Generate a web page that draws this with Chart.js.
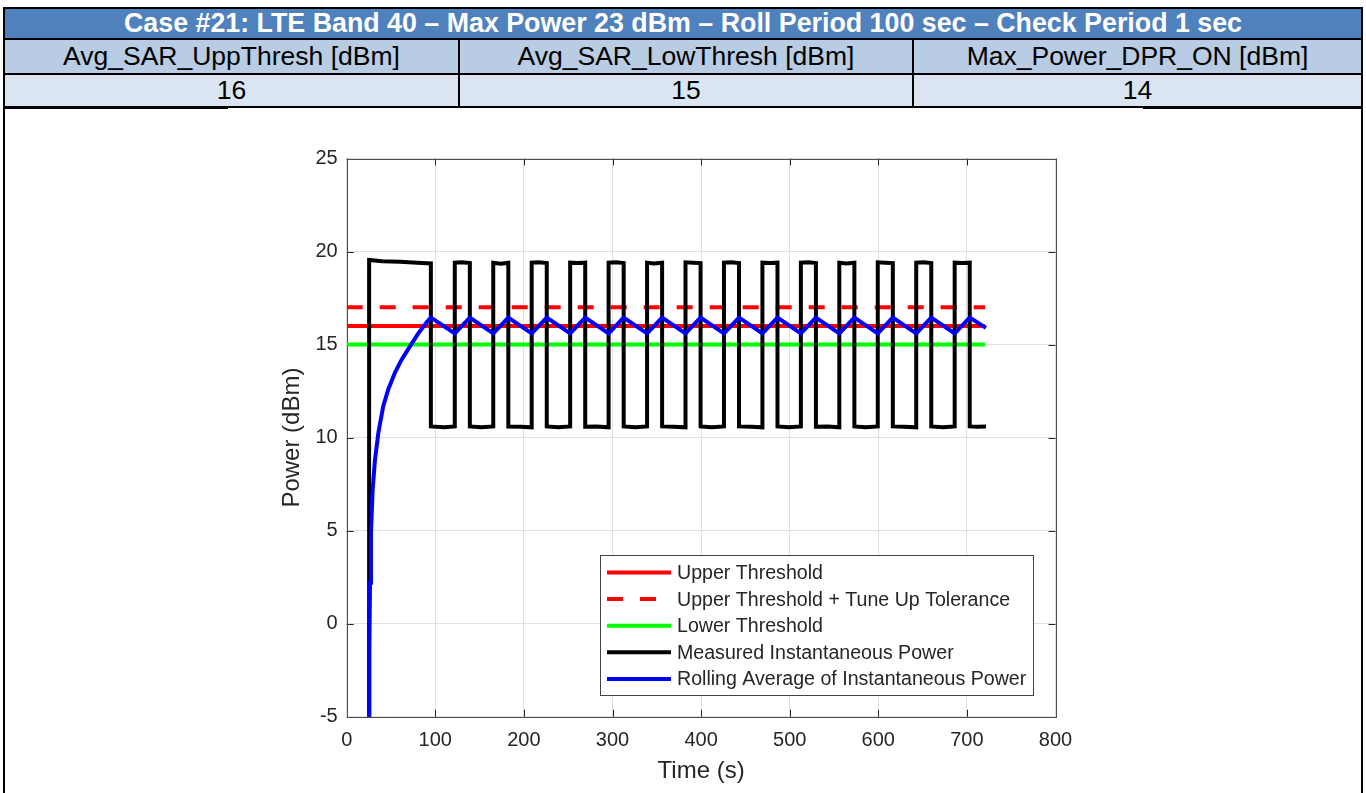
<!DOCTYPE html>
<html lang="en">
<head>
<meta charset="UTF-8">
<title>Case #21: LTE Band 40</title>
<script src="https://cdn.jsdelivr.net/npm/chart.js"></script>
<style>
  body {
    margin: 0;
    width: 1366px;
    height: 793px;
    overflow: hidden;
    background: #fff;
    position: relative;
    font-family: 'Liberation Sans', Arial, sans-serif;
  }
  canvas { position: absolute; left: 0; top: 0; }
  .cell {
    position: absolute;
    box-sizing: border-box;
    border: 2px solid #000;
    display: flex;
    align-items: center;
    justify-content: center;
    font-size: 26.5px;
    color: #000;
    white-space: nowrap;
  }
  .title { left: 3px; top: 7px; width: 1360px; height: 33px; background: #4f81bd; color: #fff; font-weight: bold; font-size: 26.8px; }
  .head { top: 38px; height: 37px; background: #b8cce4; }
  .val  { top: 73px; height: 35px; background: #dbe5f1; }
  .c1 { left: 3px; width: 457px; }
  .c2 { left: 458px; width: 456px; }
  .c3 { left: 912px; width: 451px; }
  .rule { position: absolute; background: #000; }
</style>
</head>
<body>

<canvas id="powerChart" width="1366" height="793"></canvas>

<div class="cell title">Case #21: LTE Band 40 – Max Power 23 dBm – Roll Period 100 sec – Check Period 1 sec</div>
<div class="cell head c1">Avg_SAR_UppThresh [dBm]</div>
<div class="cell head c2">Avg_SAR_LowThresh [dBm]</div>
<div class="cell head c3">Max_Power_DPR_ON [dBm]</div>
<div class="cell val c1">16</div>
<div class="cell val c2">15</div>
<div class="cell val c3">14</div>
<div class="rule" style="left:3px;top:106px;width:2px;height:687px"></div>
<div class="rule" style="left:1361px;top:106px;width:2px;height:687px"></div>
<div class="rule" style="left:3px;top:106px;width:225px;height:3px"></div>
<div class="rule" style="left:1143px;top:106px;width:220px;height:3px"></div>

<script>
// threshold levels (dBm) and the time span they are drawn over (s)
const upperThreshold = 16;
const tuneUpThreshold = 17;
const lowerThreshold = 15;
const thresholdSpan = [0, 720.5];

// measured instantaneous power, corner points
const measTime = [
  25.3, 25.3, 40, 60, 80, 95,
  95, 110, 122,
  122, 130, 139, 139, 152, 165.4,
  165.4, 174, 182.4, 182.4, 196, 208.8,
  208.8, 217, 225.8, 225.8, 239, 252.2,
  252.2, 261, 269.2, 269.2, 282, 295.6,
  295.6, 304, 312.6, 312.6, 326, 339.0,
  339.0, 347, 356.0, 356.0, 369, 382.4,
  382.4, 391, 399.4, 399.4, 412, 425.8,
  425.8, 434, 442.8, 442.8, 456, 469.2,
  469.2, 478, 486.2, 486.2, 499, 512.6,
  512.6, 521, 529.6, 529.6, 543, 556.0,
  556.0, 564, 573.0, 573.0, 586, 599.4,
  599.4, 608, 616.4, 616.4, 629, 642.8,
  642.8, 651, 659.8, 659.8, 673, 686.2,
  686.2, 695, 703.2, 703.2, 712, 721.5
];
const measPower = [
  -6, 19.55, 19.48, 19.45, 19.4, 19.36,
  10.6, 10.55, 10.6,
  19.4, 19.42, 19.38, 10.6, 10.55, 10.6,
  19.4, 19.35, 19.4, 10.6, 10.58, 10.55,
  19.4, 19.42, 19.38, 10.6, 10.55, 10.6,
  19.4, 19.38, 19.4, 10.58, 10.6, 10.55,
  19.4, 19.42, 19.38, 10.6, 10.55, 10.6,
  19.4, 19.36, 19.4, 10.6, 10.58, 10.55,
  19.42, 19.4, 19.38, 10.6, 10.55, 10.6,
  19.4, 19.42, 19.38, 10.6, 10.58, 10.55,
  19.4, 19.38, 19.4, 10.6, 10.55, 10.6,
  19.4, 19.42, 19.38, 10.58, 10.6, 10.55,
  19.4, 19.36, 19.4, 10.6, 10.55, 10.6,
  19.42, 19.4, 19.38, 10.6, 10.58, 10.55,
  19.4, 19.42, 19.38, 10.6, 10.55, 10.6,
  19.4, 19.38, 19.4, 10.6, 10.58, 10.6
];

// rolling average of instantaneous power
const rollTime = [
  25.2, 25.5, 26.3, 27.4, 29.3, 31.9, 35.7, 41.3, 47, 54.5, 62.1, 71.4, 80.8, 90.3, 95,
  122, 139, 165.4, 182.4, 208.8, 225.8, 252.2, 269.2, 295.6, 312.6, 339.0, 356.0,
  382.4, 399.4, 425.8, 442.8, 469.2, 486.2, 512.6, 529.6, 556.0, 573.0, 599.4, 616.4,
  642.8, 659.8, 686.2, 703.2, 721.5
];
const rollPower = [
  -6, -1.4, 2.2, 4.9, 7.2, 8.8, 10.25, 11.7, 12.6, 13.5, 14.2, 14.9, 15.6, 16.2, 16.45,
  15.6, 16.45, 15.6, 16.45, 15.6, 16.45, 15.6, 16.45, 15.6, 16.45, 15.6, 16.45,
  15.6, 16.45, 15.6, 16.45, 15.6, 16.45, 15.6, 16.45, 15.6, 16.45, 15.6, 16.45,
  15.6, 16.45, 15.6, 16.45, 15.9
];

const xTicks = [0, 100, 200, 300, 400, 500, 600, 700, 800];
const yTicks = [-5, 0, 5, 10, 15, 20, 25];

const FONT = "'Liberation Sans', Arial, sans-serif";
const INK = '#262626';

function toPoints(xs, ys) {
  return xs.map((x, i) => ({ x: x, y: ys[i] }));
}
function flatLine(level) {
  return thresholdSpan.map(x => ({ x: x, y: level }));
}

// box and inward tick marks, MATLAB style
const axesBox = {
  id: 'axesBox',
  beforeDatasetsDraw(chart) {
    const { ctx, chartArea: a, scales } = chart;
    ctx.save();
    ctx.strokeStyle = INK;
    ctx.lineWidth = 1;
    ctx.beginPath();
    xTicks.forEach(v => {
      const px = Math.round(scales.x.getPixelForValue(v)) + 0.5;
      ctx.moveTo(px, a.bottom); ctx.lineTo(px, a.bottom - 7);
      ctx.moveTo(px, a.top); ctx.lineTo(px, a.top + 7);
    });
    yTicks.forEach(v => {
      const py = Math.round(scales.y.getPixelForValue(v)) + 0.5;
      ctx.moveTo(a.left, py); ctx.lineTo(a.left + 7, py);
      ctx.moveTo(a.right, py); ctx.lineTo(a.right - 7, py);
    });
    ctx.stroke();
    ctx.strokeStyle = '#4d4d4d';
    ctx.strokeRect(Math.round(a.left) + 0.5, Math.round(a.top) + 0.5,
      Math.round(a.right - a.left), Math.round(a.bottom - a.top));
    ctx.restore();
  }
};

// legend box inside the axes (lower right), like the original
const boxLegend = {
  id: 'boxLegend',
  afterDatasetsDraw(chart) {
    const { ctx } = chart;
    const x0 = 600, y0 = 555, w = 433, h = 140;
    ctx.save();
    ctx.fillStyle = '#fff';
    ctx.fillRect(x0, y0, w, h);
    ctx.strokeStyle = '#444';
    ctx.lineWidth = 1;
    ctx.strokeRect(x0 + 0.5, y0 + 0.5, w, h);
    ctx.font = '19.6px ' + FONT;
    ctx.textBaseline = 'middle';
    chart.data.datasets.forEach((ds, i) => {
      const y = y0 + 17.5 + i * 26.6;
      ctx.strokeStyle = ds.borderColor;
      ctx.lineWidth = 4;
      ctx.setLineDash(ds.borderDash || []);
      ctx.beginPath();
      ctx.moveTo(607, y); ctx.lineTo(671, y);
      ctx.stroke();
      ctx.setLineDash([]);
      ctx.fillStyle = INK;
      ctx.fillText(ds.label, 677, y + 1);
    });
    ctx.restore();
  }
};

new Chart(document.getElementById('powerChart'), {
  type: 'line',
  data: {
    datasets: [
      { label: 'Upper Threshold', data: flatLine(upperThreshold), borderColor: '#ff0000', borderWidth: 4, order: 5 },
      { label: 'Upper Threshold + Tune Up Tolerance', data: flatLine(tuneUpThreshold), borderColor: '#ff0000', borderWidth: 4, borderDash: [16, 17], order: 4 },
      { label: 'Lower Threshold', data: flatLine(lowerThreshold), borderColor: '#00ff00', borderWidth: 4, order: 3 },
      { label: 'Measured Instantaneous Power', data: toPoints(measTime, measPower), borderColor: '#000000', borderWidth: 4, order: 2 },
      { label: 'Rolling Average of Instantaneous Power', data: toPoints(rollTime, rollPower), borderColor: '#0000ff', borderWidth: 4, order: 1 }
    ]
  },
  options: {
    responsive: false,
    animation: false,
    events: [],
    elements: { point: { radius: 0 }, line: { tension: 0, borderCapStyle: 'butt' } },
    datasets: { line: { clip: 0 } },
    layout: { padding: { left: 275, top: 158.5, right: 310.5, bottom: 0 } },
    plugins: { legend: { display: false }, tooltip: { enabled: false } },
    scales: {
      x: {
        type: 'linear', min: 0, max: 800,
        ticks: { stepSize: 100, color: INK, font: { family: FONT, size: 20 }, padding: 12, maxRotation: 0 },
        grid: { color: '#e0e0e0', drawTicks: false },
        border: { display: false },
        title: { display: true, text: 'Time (s)', color: INK, font: { family: FONT, size: 24 }, padding: { top: 0, bottom: 7 } },
        afterFit(scale) { scale.height = 76.3; }
      },
      y: {
        type: 'linear', min: -5, max: 25,
        ticks: { stepSize: 5, color: INK, font: { family: FONT, size: 20 }, padding: 9 },
        grid: { color: '#e0e0e0', drawTicks: false },
        border: { display: false },
        title: { display: true, text: 'Power (dBm)', color: INK, font: { family: FONT, size: 24 }, padding: { top: 3, bottom: 0 } },
        afterFit(scale) { scale.width = 71.7; }
      }
    }
  },
  plugins: [axesBox, boxLegend]
});
</script>
</body>
</html>
